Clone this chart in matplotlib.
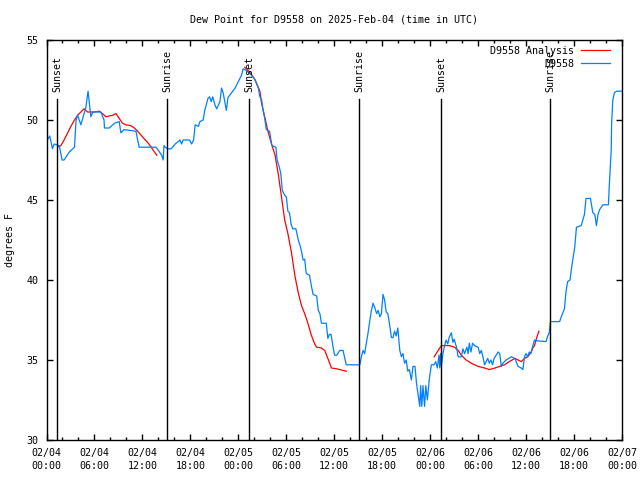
import numpy as np
import pandas as pd
import matplotlib
matplotlib.use("Agg")
import matplotlib.pyplot as plt
import matplotlib.dates as mdates

plt.rcParams['font.family'] = ['DejaVu Sans Mono']
plt.rcParams['font.size'] = 7.2

start = pd.Timestamp("2025-02-04 00:00")

# observed dew point (hours since start, deg F)
obs_hours = [0.1, 0.4, 0.75, 0.95, 1.6, 1.95, 2.2, 2.85, 3.5, 3.7, 3.9, 4.3, 4.7, 4.9, 5.2,
             5.4, 5.55, 5.8, 6.8, 7.2, 7.25, 7.85, 8.5, 9.1, 9.3, 9.7, 11.2, 11.4, 11.6, 13.1,
             13.7, 14.0, 14.4, 14.6, 14.7, 14.85, 15.2, 15.6, 16.1, 16.7, 16.9, 17.1, 17.9, 18.15,
             18.4, 18.6, 19.0, 19.2, 19.6, 19.8, 20.2, 20.4, 20.6, 20.8, 21.1, 21.3, 21.7, 21.9,
             22.1, 22.5, 22.7, 23.15, 23.6, 24.0, 24.4, 24.6, 25.0, 25.4, 25.65, 26.1, 26.5, 26.7,
             26.9, 27.1, 27.3, 27.5, 27.9, 28.2, 28.7, 28.85, 29.1, 29.3, 29.5, 29.8, 30.0, 30.2,
             30.4, 30.6, 30.8, 31.2, 31.5, 31.7, 31.9, 32.1, 32.3, 32.5, 32.9, 33.15, 33.35, 33.8,
             34.0, 34.2, 34.4, 35.0, 35.2, 35.4, 35.6, 35.85, 36.05, 36.3, 36.7, 37.1, 37.5, 39.2,
             39.4, 39.6, 39.8, 40.0, 40.2, 40.4, 40.65, 40.85, 41.05, 41.3, 41.5, 41.7, 41.9, 42.1,
             42.3, 42.5, 42.7, 42.9, 43.15, 43.35, 43.55, 43.75, 43.95, 44.2, 44.4, 44.6, 44.8, 45.0,
             45.2, 45.4, 45.65, 45.85, 46.1, 46.3, 46.5, 46.7, 46.8, 46.95, 47.1, 47.3, 47.45, 47.65,
             47.9, 48.15, 48.5, 48.7, 48.9, 49.1, 49.2, 49.3, 49.4, 49.6, 49.8, 50.0, 50.2, 50.4,
             50.65, 50.85, 51.0, 51.3, 51.5, 51.9, 52.1, 52.3, 52.6, 52.75, 52.9, 53.1, 53.3, 53.55,
             54.0, 54.2, 54.4, 54.6, 54.8, 55.0, 55.2, 55.4, 55.6, 55.8, 56.0, 56.5, 56.7, 56.9,
             57.1, 57.5, 58.15, 58.6, 59.0, 59.4, 59.6, 59.8, 60.0, 60.2, 60.4, 60.6, 60.85, 61.05,
             61.3, 62.5, 62.7, 62.9, 63.05, 64.2, 64.4, 64.8, 65.0, 65.2, 65.5, 65.7, 66.1, 66.3,
             66.9, 67.1, 67.3, 67.5, 68.05, 68.35, 68.6, 68.8, 69.0, 69.2, 69.6, 70.3, 70.4, 70.65,
             70.7, 70.85, 71.05, 71.3, 72.0]
obs_vals = [48.75, 49.0, 48.2, 48.5, 48.4, 47.5, 47.5, 48.0, 48.3, 50.0, 50.3, 49.7, 50.4, 50.7, 51.8,
            50.9, 50.2, 50.5, 50.5, 50.0, 49.5, 49.5, 49.8, 49.9, 49.2, 49.4, 49.3, 48.75, 48.3, 48.3,
            48.3, 48.1, 47.8, 47.5, 48.4, 48.3, 48.2, 48.2, 48.5, 48.75, 48.5, 48.75, 48.75, 48.5,
            48.75, 49.7, 49.6, 49.9, 50.0, 50.6, 51.35, 51.45, 51.15, 51.45, 50.9, 50.7, 51.15, 52.0,
            51.7, 50.6, 51.4, 51.7, 52.0, 52.4, 52.8, 53.2, 53.1, 52.9, 52.8, 52.5, 52.0, 51.45,
            51.3, 50.6, 50.1, 49.4, 49.3, 48.4, 48.3, 47.5, 47.1, 46.7, 45.6, 45.3, 45.2, 44.3,
            44.2, 43.5, 43.2, 43.2, 42.5, 42.2, 41.8, 41.25, 41.3, 40.4, 40.3, 39.6, 39.1, 39.0,
            38.1, 37.9, 37.3, 37.3, 36.35, 36.6, 36.6, 35.8, 35.3, 35.3, 35.6, 35.6, 34.7, 34.7,
            35.2, 35.6, 35.4, 36.0, 36.6, 37.3, 38.1, 38.55, 38.3, 37.9, 38.1, 37.7, 37.9, 39.1,
            38.75, 38.0, 37.9, 37.3, 36.4, 36.4, 36.8, 36.5, 37.0, 35.6, 35.2, 35.4, 34.8, 35.0,
            34.3, 34.4, 33.75, 34.6, 34.6, 33.5, 32.8, 32.1, 33.4, 32.1, 33.4, 32.1, 33.4, 32.5,
            33.85, 34.7, 34.7, 34.9, 34.5, 35.3, 34.5, 35.4, 34.6, 35.4, 35.9, 36.25, 36.0, 36.45,
            36.7, 36.1, 36.3, 35.8, 35.2, 35.2, 35.7, 35.4, 35.8, 35.4, 36.05, 35.5, 36.05, 35.9,
            35.8, 35.4, 35.6, 35.2, 34.7, 34.9, 35.1, 34.8, 35.0, 34.7, 35.1, 35.5, 35.4, 34.6,
            34.8, 35.0, 35.2, 35.1, 34.6, 34.5, 34.4, 35.2, 35.4, 35.2, 35.5, 35.4, 35.9, 36.25,
            36.2, 36.15, 36.5, 36.7, 37.4, 37.4, 37.7, 38.2, 39.3, 39.9, 40.0, 40.8, 42.1, 43.3,
            43.4, 43.75, 44.1, 45.1, 45.1, 44.2, 44.1, 43.4, 44.1, 44.4, 44.7, 44.7, 45.8, 48.1,
            49.8, 51.25, 51.7, 51.8, 51.8]

# analysis (nan marks gaps between runs)
ana_hours = [1.4, 1.8, 2.2, 2.65, 3.05, 3.5, 3.9, 4.3, 4.7, 5.15, 5.55, 6.0, 6.6, 7.0, 7.45,
             7.85, 8.3, 8.7, 9.1, 9.5, 9.9, 10.55, 11.0, 11.4, 12.0, 12.65, 13.1, 13.5, 13.8,
             19.0,
             24.8, 25.4, 25.85, 26.1, 26.7, 26.9, 27.3, 27.7, 28.15, 28.6, 29.0, 29.4, 29.8, 30.2,
             30.65, 31.1, 31.5, 31.9, 32.3, 32.7, 33.1, 33.55, 33.8, 34.4, 34.8, 35.2, 35.65, 36.3,
             37.5,
             43.0,
             48.5, 49.0, 49.4, 49.8, 50.4, 51.05, 51.5, 51.9, 52.5, 53.15, 54.0, 54.8, 55.4, 56.1,
             56.7, 57.3, 57.9, 58.6, 59.0, 59.4, 59.8, 60.2, 60.65, 60.85, 61.05, 61.3, 61.6]
ana_vals = [48.3, 48.4, 48.75, 49.2, 49.6, 50.0, 50.3, 50.5, 50.7, 50.5, 50.5, 50.5, 50.55, 50.4, 50.2,
            50.25, 50.3, 50.4, 50.1, 49.8, 49.7, 49.65, 49.5, 49.3, 48.95, 48.6, 48.3, 48.0, 47.8,
            np.nan,
            53.3, 53.0, 52.7, 52.5, 51.8, 51.05, 50.2, 49.3, 48.5, 47.8, 46.6, 45.2, 43.75, 42.9,
            41.7, 40.2, 39.2, 38.4, 37.9, 37.3, 36.6, 36.0, 35.8, 35.75, 35.6, 35.1, 34.5, 34.45,
            34.3,
            np.nan,
            35.2, 35.6, 35.9, 35.9, 35.9, 35.8, 35.6, 35.3, 35.0, 34.8, 34.6, 34.5, 34.4, 34.5,
            34.6, 34.7, 34.9, 35.1, 35.0, 34.9, 35.1, 35.2, 35.5, 35.75, 35.9, 36.35, 36.8]

sun_hours = [1.35, 15.1, 25.35, 39.1, 49.35, 63.0]
sun_labels = ["Sunset", "Sunrise", "Sunset", "Sunrise", "Sunset", "Sunrise"]


def to_time(hours):
    return start + pd.to_timedelta(hours, unit="h")


fig = plt.figure(figsize=(6.4, 4.8), dpi=100)
ax = fig.add_axes([46.5 / 640, 40 / 480, 575.5 / 640, 400 / 480])

ax.plot(to_time(ana_hours), ana_vals, color="#ff0000", lw=0.9, label="D9558 Analysis")
ax.plot(to_time(obs_hours), obs_vals, color="#0080ff", lw=0.9, label="D9558")

for h, name in zip(sun_hours, sun_labels):
    t = to_time(h)
    ax.axvline(t, ymin=0, ymax=0.8525, color="black", lw=1.0)
    ax.text(t, 51.75, name, rotation=90, ha="center", va="bottom")

ax.set_xlim(to_time(0), to_time(72))
ax.set_ylim(30, 55)
ax.set_yticks([30, 35, 40, 45, 50, 55])
ax.xaxis.set_major_locator(mdates.HourLocator(byhour=range(0, 24, 6)))
ax.xaxis.set_minor_locator(mdates.HourLocator(byhour=range(0, 24, 2)))
ax.xaxis.set_major_formatter(mdates.DateFormatter("%m/%d\n%H:%M"))
ax.tick_params(which="both", direction="in", top=True, right=True, labelsize=7.2)
ax.tick_params(which="major", length=4, width=1, pad=6)
ax.tick_params(which="minor", length=2, width=1)
for label in ax.get_xticklabels():
    label.set_linespacing(1.35)
for s in ax.spines.values():
    s.set_linewidth(1.0)

ax.set_ylabel("degrees F", fontsize=7.2, labelpad=8)
ax.set_title("Dew Point for D9558 on 2025-Feb-04 (time in UTC)", fontsize=7.2, pad=12.5)

ax.legend(loc="upper right", frameon=False, markerfirst=False,
          bbox_to_anchor=((610 - 46.5) / 575.5, (440 - 46) / 400),
          handlelength=2.9, handletextpad=0.7, labelspacing=0.3,
          borderaxespad=0, borderpad=0)

fig.savefig("out.png", dpi=100)
